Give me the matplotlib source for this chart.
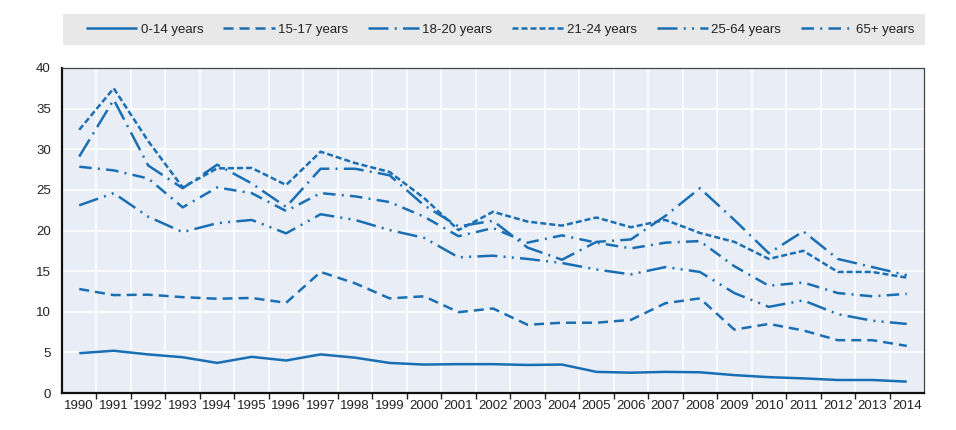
import numpy as np
import matplotlib
matplotlib.use("Agg")
import matplotlib.pyplot as plt
from matplotlib.patches import Rectangle
from matplotlib.ticker import FixedLocator, NullFormatter

# data (percent)
years = list(range(1990, 2015))
age_0_14 = [4.9, 5.2, 4.75, 4.4, 3.7, 4.45, 4.0, 4.75, 4.35, 3.7, 3.5, 3.55, 3.55,
            3.45, 3.5, 2.6, 2.5, 2.6, 2.55, 2.2, 1.95, 1.8, 1.6, 1.6, 1.4]
age_15_17 = [12.8, 12.05, 12.1, 11.8, 11.6, 11.7, 11.1, 14.9, 13.5, 11.65, 11.9, 9.95,
             10.4, 8.4, 8.65, 8.65, 9.0, 11.05, 11.65, 7.8, 8.5, 7.7, 6.5, 6.5, 5.8]
age_18_20 = [29.1, 36.1, 28.0, 25.2, 28.1, 25.8, 22.9, 27.6, 27.6, 26.8, 23.1, 20.5,
             21.2, 17.9, 16.4, 18.6, 18.9, 21.8, 25.2, 21.3, 17.2, 19.9, 16.5, 15.5, 14.5]
age_21_24 = [32.4, 37.5, 31.0, 25.3, 27.65, 27.7, 25.6, 29.7, 28.3, 27.2, 24.0, 20.05,
             22.3, 21.1, 20.6, 21.6, 20.4, 21.3, 19.7, 18.6, 16.5, 17.5, 14.9, 14.9, 14.2]
age_25_64 = [23.1, 24.6, 21.7, 19.8, 20.9, 21.3, 19.65, 22.0, 21.3, 20.05, 19.1, 16.7,
             16.9, 16.5, 16.0, 15.2, 14.6, 15.5, 14.9, 12.3, 10.6, 11.4, 9.7, 8.9, 8.5]
age_65 = [27.85, 27.4, 26.4, 22.85, 25.3, 24.6, 22.4, 24.6, 24.2, 23.5, 21.7, 19.3,
          20.3, 18.5, 19.4, 18.5, 17.8, 18.5, 18.7, 15.6, 13.2, 13.6, 12.3, 11.9, 12.2]

labels = ["0-14 years", "15-17 years", "18-20 years", "21-24 years", "25-64 years", "65+ years"]
series = [age_0_14, age_15_17, age_18_20, age_21_24, age_25_64, age_65]
styles = ["-",
          (0, (4, 2.4)),
          (0, (8, 2.5, 0.8, 2.5)),
          (0, (2.4, 1.2)),
          (0, (8, 2.5, 0.8, 2.5, 0.8, 2.5)),
          (0, (5, 2.5, 0.8, 2.5))]

BLUE = "#1a6fb4"
plt.rcParams["font.family"] = ["Liberation Sans Narrow", "Liberation Sans", "DejaVu Sans"]

W, H = 956, 430
fig = plt.figure(figsize=(W / 100, H / 100), dpi=100)
ax = fig.add_axes([62 / W, 1 - 393 / H, 862 / W, 325 / H])
ax.set_facecolor("#e9eef6")

for vals, ls, lab in zip(series, styles, labels):
    ax.plot(years, vals, color=BLUE, lw=1.8, linestyle=ls, label=lab,
            dash_capstyle="butt", solid_capstyle="butt")

ax.set_xlim(1989.5, 2014.5)
ax.set_ylim(0, 40)
ax.set_yticks(range(0, 41, 5))
ax.set_xticks(years)
ax.set_xticklabels([str(y) for y in years])
ax.xaxis.set_minor_locator(FixedLocator(np.arange(1990.5, 2014.5, 1)))
ax.xaxis.set_minor_formatter(NullFormatter())
ax.tick_params(axis="x", which="major", length=0, labelsize=9.5, pad=5, colors="#222222")
ax.tick_params(axis="x", which="minor", length=4, width=1, color="#222222", direction="out")
ax.tick_params(axis="y", length=0, labelsize=9.5, pad=8, colors="#222222")
ax.grid(True, which="minor", axis="x", color="white", lw=1.1)
ax.grid(True, which="major", axis="y", color="white", lw=1.1)
ax.set_axisbelow(True)
for side in ["left", "bottom"]:
    ax.spines[side].set_color("#111111")
    ax.spines[side].set_linewidth(1.6)
for side in ["top", "right"]:
    ax.spines[side].set_color("#444444")
    ax.spines[side].set_linewidth(0.9)

# grey legend band
fig.patches.append(Rectangle((63 / W, 1 - 45 / H), 862 / W, 31 / H,
                             transform=fig.transFigure, facecolor="#e8e8e8",
                             edgecolor="none", zorder=0))
leg = fig.legend(loc="center", ncol=6, mode="expand",
                 bbox_to_anchor=(86 / W, 1 - 40 / H, 828 / W, 21 / H),
                 frameon=False, fontsize=9.5, handlelength=3.9,
                 handletextpad=0.25, columnspacing=1.0, borderaxespad=0, borderpad=0)
for t in leg.get_texts():
    t.set_color("#222222")

fig.savefig("out.png", dpi=100)
